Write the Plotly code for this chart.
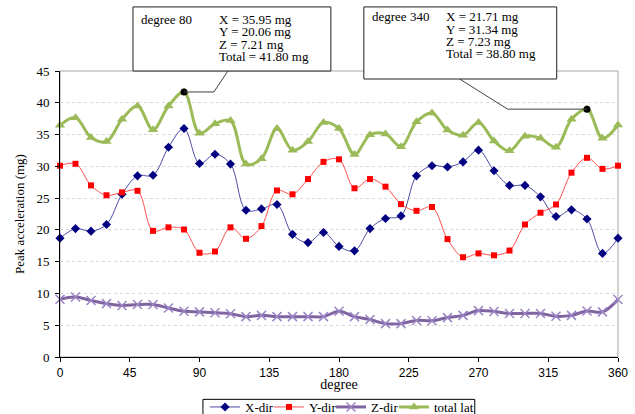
import plotly.graph_objects as go

degrees = [0, 10, 20, 30, 40, 50, 60, 70, 80, 90, 100, 110, 120, 130, 140, 150, 160, 170, 180,
           190, 200, 210, 220, 230, 240, 250, 260, 270, 280, 290, 300, 310, 320, 330, 340, 350, 360]

x_dir = [18.7, 20.2, 19.8, 20.85, 25.6, 28.5, 28.6, 33.0, 35.95, 30.45, 31.9, 30.35, 23.1, 23.3,
         24.0, 19.3, 18.0, 19.6, 17.4, 16.7, 20.2, 21.8, 22.2, 28.5, 30.1, 29.9, 30.7, 32.55,
         29.3, 27.0, 27.0, 25.2, 22.1, 23.15, 21.71, 16.3, 18.7]

y_dir = [30.1, 30.4, 27.0, 25.45, 25.9, 26.15, 19.85, 20.4, 20.06, 16.4, 16.6, 20.4, 18.6, 20.6,
         26.2, 25.6, 28.0, 30.7, 31.1, 26.55, 28.0, 26.8, 24.05, 23.0, 23.6, 18.55, 15.7, 16.3,
         16.0, 16.75, 20.85, 22.7, 24.0, 29.0, 31.34, 29.6, 30.1]

z_dir = [9.1, 9.45, 8.9, 8.4, 8.1, 8.25, 8.25, 7.7, 7.21, 7.1, 6.95, 6.8, 6.35, 6.55, 6.35, 6.35,
         6.35, 6.35, 7.2, 6.35, 5.9, 5.25, 5.25, 5.75, 5.7, 6.2, 6.55, 7.3, 7.15, 6.85, 6.85, 6.85,
         6.4, 6.55, 7.23, 7.1, 9.05]

total_lat = [36.45, 37.65, 34.55, 33.9, 37.4, 39.5, 35.75, 39.5, 41.7, 35.2, 36.7, 37.2, 30.35,
             31.2, 35.95, 32.55, 33.9, 36.9, 35.95, 31.85, 34.95, 35.1, 33.1, 37.0, 38.4, 35.7,
             34.9, 36.9, 34.0, 32.45, 34.75, 34.4, 33.0, 37.4, 39.0, 34.4, 36.5]

x_ticks = [0, 45, 90, 135, 180, 225, 270, 315, 360]
y_ticks = [0, 5, 10, 15, 20, 25, 30, 35, 40, 45]

series_names = ["X-dir", "Y-dir", "Z-dir", "total lat"]

callout_1_label = "degree 80"
callout_1_lines = ["X = 35.95 mg", "Y = 20.06 mg", "Z = 7.21 mg", "Total = 41.80 mg"]
callout_2_label = "degree 340"
callout_2_lines = ["X = 21.71 mg", "Y = 31.34 mg", "Z = 7.23 mg", "Total = 38.80 mg"]
highlight_degrees = [80, 340]

SERIF = "Liberation Serif"
SANS = "Liberation Sans"

legend_ids = ["legend", "legend2", "legend3", "legend4"]

fig = go.Figure()

fig.add_trace(go.Scatter(
    x=degrees, y=x_dir, name=series_names[0], mode="lines+markers", legend=legend_ids[0],
    line=dict(color="#4a4aa6", width=1, shape="spline", smoothing=1),
    marker=dict(symbol="diamond", size=7, color="#000080"),
    cliponaxis=False))
fig.add_trace(go.Scatter(
    x=degrees, y=y_dir, name=series_names[1], mode="lines+markers", legend=legend_ids[1],
    line=dict(color="#ff4d4d", width=1, shape="spline", smoothing=1),
    marker=dict(symbol="square", size=6, color="#ff0000"),
    cliponaxis=False))
fig.add_trace(go.Scatter(
    x=degrees, y=z_dir, name=series_names[2], mode="lines+markers", legend=legend_ids[2],
    line=dict(color="#8064a2", width=3, shape="spline", smoothing=1),
    marker=dict(symbol="x-thin", size=9, color="#9b85c4",
                line=dict(width=1.5, color="#9b85c4")),
    cliponaxis=False))
fig.add_trace(go.Scatter(
    x=degrees, y=total_lat, name=series_names[3], mode="lines+markers", legend=legend_ids[3],
    line=dict(color="#9bbb59", width=3, shape="spline", smoothing=1),
    marker=dict(symbol="triangle-up", size=9, color="#9bbb59"),
    cliponaxis=False))

# highlighted points
hi_y = [total_lat[degrees.index(d)] for d in highlight_degrees]
fig.add_trace(go.Scatter(
    x=highlight_degrees, y=hi_y, mode="markers", showlegend=False,
    marker=dict(symbol="circle", size=7, color="black"), cliponaxis=False))

shapes = []
# plot-area border (grey, top/right)
shapes.append(dict(type="rect", xref="paper", yref="paper", x0=0, x1=1, y0=0, y1=1,
                   line=dict(color="#a6a6a6", width=1), layer="below"))

# leader lines
shapes.append(dict(type="path", xref="x", yref="y",
                   path=f"M 80,{hi_y[0]} L 99.3,{hi_y[0]} L 108.3,45",
                   line=dict(color="#404040", width=1), layer="above"))
shapes.append(dict(type="path", xref="x", yref="y",
                   path=f"M 340,{hi_y[1]} L 288.8,{hi_y[1]} L 257.9,43.73",
                   line=dict(color="#404040", width=1), layer="above"))

# callout boxes
shapes.append(dict(type="rect", xref="paper", yref="paper",
                   x0=0.1308, x1=0.4854, y0=1.0, y1=1.224,
                   line=dict(color="#202020", width=1), fillcolor="white", layer="above"))
shapes.append(dict(type="rect", xref="paper", yref="paper",
                   x0=0.5445, x1=0.8902, y0=0.972, y1=1.224,
                   line=dict(color="#202020", width=1), fillcolor="white", layer="above"))

# legend frame
shapes.append(dict(type="rect", xref="paper", yref="paper",
                   x0=(203 - 60) / 558.3, x1=(475 - 60) / 558.3,
                   y0=(356.7 - 430) / 285.7, y1=(356.7 - 399) / 285.7,
                   line=dict(color="black", width=1), fillcolor="rgba(0,0,0,0)", layer="above"))

annotations = []
afont = dict(family=SERIF, size=13, color="black")


def add_callout(label, lines, x_label, x_vals, y_first, step):
    annotations.append(dict(xref="paper", yref="paper", x=x_label, y=y_first, text=label,
                            showarrow=False, xanchor="left", yanchor="middle", font=afont,
                            borderpad=0))
    for i, t in enumerate(lines):
        annotations.append(dict(xref="paper", yref="paper", x=x_vals, y=y_first - i * step,
                                text=t, showarrow=False, xanchor="left", yanchor="middle",
                                font=afont, borderpad=0))


step = 12.4 / 285.7
add_callout(callout_1_label, callout_1_lines, 0.1430, 0.2830, (356.7 - 19.5) / 285.7, step)
add_callout(callout_2_label, callout_2_lines, 0.5570, 0.6895, (356.7 - 16.7) / 285.7, step)


def legend_at(px):
    return dict(orientation="h", xref="container", yref="container",
                x=px / 635, xanchor="left", y=(414 - 392) / 414, yanchor="top",
                borderwidth=0, bgcolor="rgba(0,0,0,0)",
                font=dict(family=SERIF, size=13, color="black"),
                itemwidth=30, tracegroupgap=0)


fig.update_layout(
    width=635, height=414, autosize=False,
    margin=dict(l=60, r=17, t=71, b=57, pad=0, autoexpand=False),
    paper_bgcolor="white", plot_bgcolor="white",
    font=dict(family=SERIF, size=13, color="black"),
    shapes=shapes, annotations=annotations,
    showlegend=True,
    legend=legend_at(205), legend2=legend_at(269), legend3=legend_at(331),
    legend4=legend_at(394),
    xaxis=dict(range=[0, 360], tickmode="array", tickvals=x_ticks,
               ticktext=[str(v) for v in x_ticks], automargin=False,
               showline=True, linecolor="black", linewidth=1, mirror=False,
               ticks="outside", ticklen=4, tickcolor="black", tickwidth=1,
               showgrid=False, zeroline=False, ticklabelstandoff=1,
               tickfont=dict(family=SANS, size=12, color="black"),
               title=dict(text="degree", font=dict(family=SERIF, size=14), standoff=8)),
    yaxis=dict(range=[0, 45], tickmode="array", tickvals=y_ticks,
               ticktext=[str(v) for v in y_ticks], automargin=False,
               showline=True, linecolor="black", linewidth=1,
               ticks="outside", ticklen=4, tickcolor="black", tickwidth=1,
               showgrid=True, gridcolor="#d9d9d9", griddash="dot", gridwidth=1,
               zeroline=False, ticklabelstandoff=3,
               tickfont=dict(family=SERIF, size=13, color="black"),
               title=dict(text="Peak acceleration (mg)", font=dict(family=SERIF, size=13),
                          standoff=8)),
)

fig.write_html("out.html", config={"displayModeBar": False},
               post_script="document.body.style.margin='0';document.body.style.overflow='hidden';")
